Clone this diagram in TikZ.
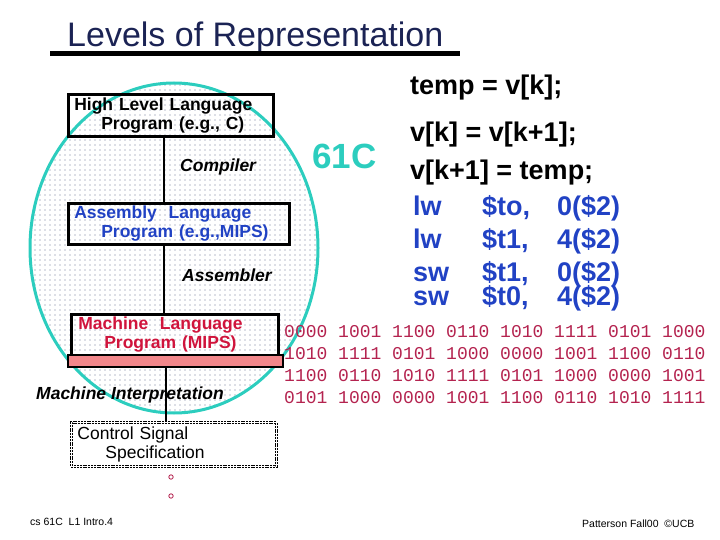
\documentclass[tikz,border=0pt]{standalone}
\usepackage{fontspec}
\setmainfont{Liberation Sans}
\setmonofont{Liberation Mono}
\usetikzlibrary{positioning, patterns.meta}
\definecolor{slideNavy}{HTML}{1B2354}
\definecolor{slideTeal}{HTML}{2CCDBE}
\definecolor{slideBlue}{HTML}{2142C4}
\definecolor{slideCrimson}{HTML}{D0143C}
\definecolor{slideBits}{HTML}{B4234F}
\definecolor{slidePink}{HTML}{F2878B}
\definecolor{slideDots}{HTML}{6E7896}
\tikzset{
  levelbox/.style={draw=black, line width=2.6pt, align=left, inner xsep=6pt, inner ysep=0pt,
    anchor=north west, font=\fontsize{17.5}{19}\selectfont\bfseries},
  stagelabel/.style={inner sep=0pt, anchor=west, font=\fontsize{17.5}{19}\selectfont\bfseries\itshape},
  codeline/.style={inner sep=0pt, anchor=base west, font=\fontsize{27}{30}\selectfont\bfseries},
  bitsline/.style={inner sep=0pt, anchor=base west, text=slideBits, font=\fontsize{18}{22}\selectfont\ttfamily},
  tinytext/.style={inner sep=0pt, anchor=west, font=\fontsize{10.5}{12}\selectfont},
  spine/.style={line width=2.6pt}
}
\begin{document}
\begin{tikzpicture}[x=1pt, y=-1pt]
  \useasboundingbox (0,0) rectangle (720,540);
  % Title
  \node[inner sep=0pt, anchor=base west, text=slideNavy, font=\fontsize{34}{38}\selectfont] (title) at (67,47) {Levels of Representation};
  \draw[line width=5pt] (50,53.5) -- (460,53.5);
  % 61C region
  \fill[white] (174,248) ellipse [x radius=144, y radius=165];
  \path[pattern={Dots[distance=5pt, radius=0.55pt]}, pattern color=slideDots] (174,248) ellipse [x radius=144, y radius=165];
  \draw[slideTeal, line width=3pt] (174,248) ellipse [x radius=144, y radius=165];
  \node[inner sep=0pt, anchor=west, text=slideTeal, font=\fontsize{35}{40}\selectfont\bfseries] (tag) at (312,156) {61C};
  % Levels
  \node[levelbox, text width=193pt, minimum height=42pt] (hll) at (67,93)
    {High Level Language\\\hspace*{27pt}Program (e.g., C)};
  \node[levelbox, text width=209pt, minimum height=41pt, text=slideBlue] (asm) at (67,202)
    {Assembly\ \ Language\\\hspace*{27pt}Program (e.g.,MIPS)};
  \node[levelbox, inner xsep=7pt, text width=193pt, minimum height=41pt, text=slideCrimson] (mach) at (70,313)
    {Machine\ \ Language\\\hspace*{26pt}Program (MIPS)};
  \node[draw=black, line width=2.4pt, fill=slidePink, anchor=north west, minimum width=215pt, minimum height=12pt, inner sep=0pt] (bar) at (67,354) {};
  \node[levelbox, font=\fontsize{17.5}{19}\selectfont, fill=white, line width=0.9pt, double=white, double distance=0.8pt,
    dash pattern=on 2pt off 0.8pt, text width=193pt, minimum height=44pt] (ctrl) at (71,422)
    {Control Signal\\\hspace*{28pt}Specification};
  % Connectors
  \coordinate (axis) at (164,0);
  \draw[spine] (axis |- hll.south) -- (axis |- asm.north);
  \draw[spine] (axis |- asm.south) -- (axis |- mach.north);
  \draw[spine] ([xshift=2pt]axis |- bar.south) -- ([xshift=2pt]axis |- ctrl.north);
  \node[stagelabel] (comp) at (180,167) {Compiler};
  \node[stagelabel] (assem) at (182,275) {Assembler};
  \node[stagelabel] (interp) at (36,395) {Machine Interpretation};
  \draw[slideBits, line width=0.8pt] (171,477) circle (2.2pt) (171,496) circle (2.2pt);
  % Code
  \node[codeline] (hl1) at (410,95) {temp = v[k];};
  \node[codeline] (hl2) at (410,142) {v[k] = v[k+1];};
  \node[codeline] (hl3) at (410,180) {v[k+1] = temp;};
  \node[codeline, text=slideBlue] (as1) at (413,215) {\makebox[69pt][l]{lw}\makebox[75pt][l]{\$to,}0(\$2)};
  \node[codeline, text=slideBlue] (as2) at (413,248) {\makebox[69pt][l]{lw}\makebox[75pt][l]{\$t1,}4(\$2)};
  \node[codeline, text=slideBlue] (as3) at (413,281) {\makebox[69pt][l]{sw}\makebox[75pt][l]{\$t1,}0(\$2)};
  \node[codeline, text=slideBlue] (as4) at (413,305) {\makebox[69pt][l]{sw}\makebox[75pt][l]{\$t0,}4(\$2)};
  % Bits
  \foreach \bits [count=\i] in {
      0000 1001 1100 0110 1010 1111 0101 1000,
      1010 1111 0101 1000 0000 1001 1100 0110,
      1100 0110 1010 1111 0101 1000 0000 1001,
      0101 1000 0000 1001 1100 0110 1010 1111}
    \node[bitsline] (bits\i) at (284,315+22*\i) {\bits};
  % Footer
  \node[tinytext] (foot) at (30,522) {cs 61C\ \ L1 Intro.4};
  \node[tinytext] (credit) at (582,524) {Patterson Fall00\ \ ©UCB};
\end{tikzpicture}
\end{document}
